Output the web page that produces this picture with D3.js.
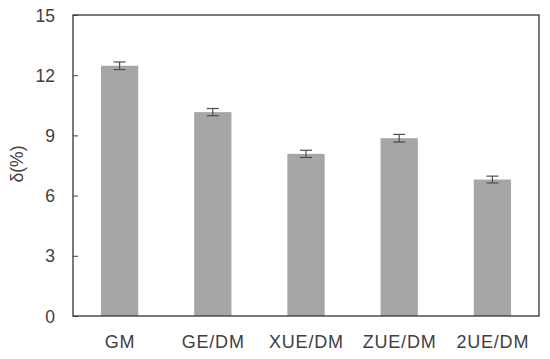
<!DOCTYPE html>
<html>
<head>
<meta charset="utf-8">
<script src="https://cdn.jsdelivr.net/npm/d3@7"></script>
<style>
  body { margin: 0; background: #fff; }
  text { font-family: "Liberation Sans", Arial, sans-serif; fill: #404040; }
</style>
</head>
<body>
<div id="chart"></div>
<script>
// data
let categories = ["GM", "GE/DM", "XUE/DM", "ZUE/DM", "2UE/DM"];
let values = [12.47, 10.16, 8.08, 8.86, 6.8];
let errors = [0.19, 0.18, 0.18, 0.19, 0.17];
let yTicks = [0, 3, 6, 9, 12, 15];

let width = 550, height = 359;
let margin = {top: 15, right: 11, bottom: 43, left: 73};

let svg = d3.select("#chart")
    .append("svg")
    .attr("width", width)
    .attr("height", height);

let x = d3.scaleBand()
    .domain(categories)
    .range([margin.left, width - margin.right])
    .paddingInner(0.6)
    .paddingOuter(0.3);

let y = d3.scaleLinear()
    .domain([0, 15])
    .range([height - margin.bottom, margin.top]);

// bars
svg.selectAll("rect.bar")
    .data(values)
    .enter()
    .append("rect")
    .attr("class", "bar")
    .attr("x", (d, i) => x(categories[i]))
    .attr("y", d => y(d))
    .attr("width", x.bandwidth())
    .attr("height", d => y(0) - y(d))
    .attr("fill", "#a6a6a6");

// error bars
let capW = 6;
let eb = svg.selectAll("g.err")
    .data(values)
    .enter()
    .append("g")
    .attr("class", "err")
    .attr("stroke", "#4d4d4d")
    .attr("stroke-width", 1.2);
eb.append("line")
    .attr("x1", (d, i) => x(categories[i]) + x.bandwidth() / 2)
    .attr("x2", (d, i) => x(categories[i]) + x.bandwidth() / 2)
    .attr("y1", (d, i) => y(d + errors[i]))
    .attr("y2", (d, i) => y(d - errors[i]));
eb.append("line")
    .attr("x1", (d, i) => x(categories[i]) + x.bandwidth() / 2 - capW)
    .attr("x2", (d, i) => x(categories[i]) + x.bandwidth() / 2 + capW)
    .attr("y1", (d, i) => y(d + errors[i]))
    .attr("y2", (d, i) => y(d + errors[i]));
eb.append("line")
    .attr("x1", (d, i) => x(categories[i]) + x.bandwidth() / 2 - capW)
    .attr("x2", (d, i) => x(categories[i]) + x.bandwidth() / 2 + capW)
    .attr("y1", (d, i) => y(d - errors[i]))
    .attr("y2", (d, i) => y(d - errors[i]));

// y axis, ticks pointing inward
let yAxis = svg.append("g")
    .attr("transform", "translate(" + margin.left + ",0)")
    .call(d3.axisRight(y).tickValues(yTicks).tickSize(5).tickFormat(d3.format("d")));
yAxis.select(".domain").remove();
yAxis.selectAll("line").attr("stroke", "#404040");
yAxis.selectAll("text")
    .attr("x", -18)
    .attr("text-anchor", "end")
    .attr("dy", "0.35em")
    .style("font-size", "17.5px");

// x axis labels, no ticks
let xAxis = svg.append("g")
    .attr("transform", "translate(0," + y(0) + ")")
    .call(d3.axisBottom(x).tickSize(0));
xAxis.select(".domain").remove();
xAxis.selectAll("text")
    .attr("y", 31.5)
    .attr("dy", 0)
    .attr("dx", "0.4px")
    .style("font-size", "18px")
    .style("letter-spacing", "0.8px");

// plot frame
svg.append("rect")
    .attr("x", margin.left)
    .attr("y", margin.top)
    .attr("width", width - margin.left - margin.right)
    .attr("height", height - margin.top - margin.bottom)
    .attr("fill", "none")
    .attr("stroke", "#333333")
    .attr("stroke-width", 1.3);

// y title
svg.append("text")
    .attr("transform", "translate(23," + (margin.top + 149) + ") rotate(-90)")
    .attr("text-anchor", "middle")
    .style("font-size", "17.5px")
    .text("δ(%)");
</script>
</body>
</html>
